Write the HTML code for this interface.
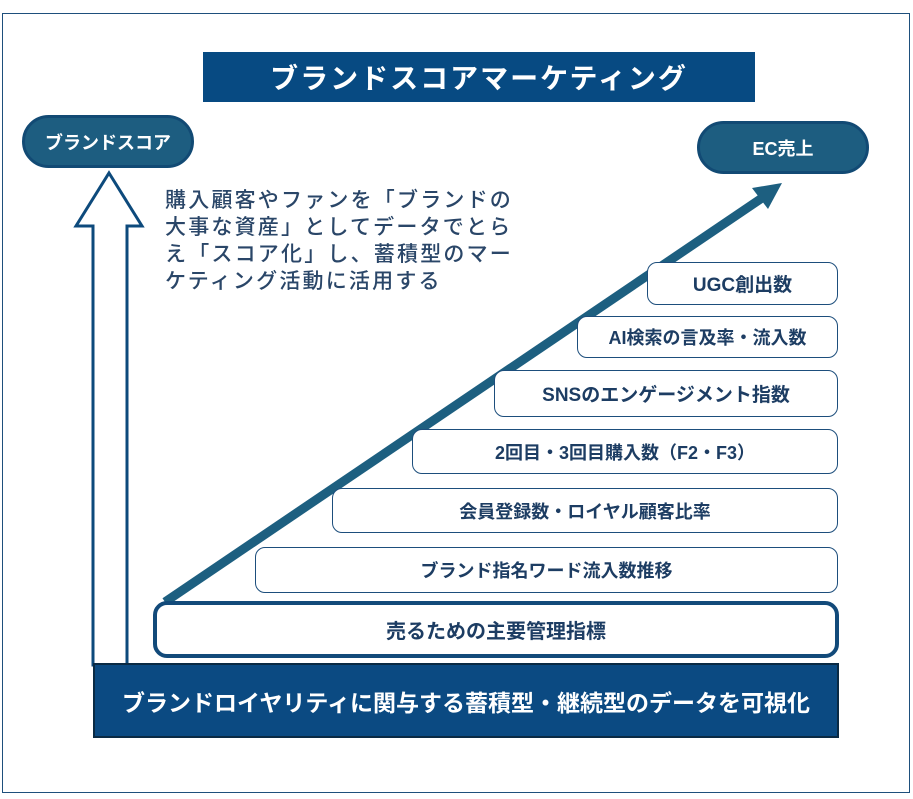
<!DOCTYPE html>
<html><head><meta charset="utf-8"><style>
body{margin:0;width:913px;height:799px;background:#fff;position:relative;overflow:hidden;font-family:"Liberation Sans","Noto Sans CJK JP",sans-serif}
.a{position:absolute;box-sizing:border-box;display:flex;align-items:center;justify-content:center}
.b{border:1.5px solid #1d4e7c;border-radius:10px;background:#fff;color:#1d3d63;font-weight:bold;font-size:18px;right:75px}
</style></head><body>
<div class="a" style="left:2px;top:13px;width:908px;height:780px;border:1.5px solid #1e4f7c"></div>
<div class="a" style="left:203px;top:52px;width:552px;height:50px;background:#074a82;color:#fff;font-size:28px;font-weight:bold;letter-spacing:2px">ブランドスコアマーケティング</div>
<div class="a" style="left:22px;top:115px;width:172px;height:53px;background:#1d5d80;border:3px solid #124a74;border-radius:27px;color:#fff;font-weight:bold;font-size:18px">ブランドスコア</div>
<div class="a" style="left:697px;top:121px;width:172px;height:53px;background:#1d5d80;border:3px solid #124a74;border-radius:27px;color:#fff;font-weight:bold;font-size:18px">EC売上</div>
<svg class="a" style="left:0;top:0" width="913" height="799">
<polygon points="109,173 142,226 127,226 127,665 93,665 93,226 76,226" fill="#fff" stroke="#0d4a7c" stroke-width="3"/>
<line x1="165" y1="602" x2="762" y2="198" stroke="#1d5f80" stroke-width="9"/>
<polygon points="782,183 752,188 768,209" fill="#1d5f80"/>
</svg>
<div style="position:absolute;left:165px;top:187px;font-size:21px;line-height:27px;color:#2a4668;letter-spacing:2.2px;white-space:nowrap;font-weight:500">購入顧客やファンを「ブランドの<br>大事な資産」としてデータでとら<br>え「スコア化」し、蓄積型のマー<br>ケティング活動に活用する</div>
<div class="a b" style="left:647px;top:262px;height:43px;font-size:19px">UGC創出数</div>
<div class="a b" style="left:577px;top:316px;height:42px">AI検索の言及率・流入数</div>
<div class="a b" style="left:494px;top:370px;height:47px;font-size:19px">SNSのエンゲージメント指数</div>
<div class="a b" style="left:412px;top:429px;height:45px">2回目・3回目購入数（F2・F3）</div>
<div class="a b" style="left:332px;top:488px;height:45px">会員登録数・ロイヤル顧客比率</div>
<div class="a b" style="left:255px;top:547px;height:46px">ブランド指名ワード流入数推移</div>
<div class="a" style="left:153px;top:601px;width:686px;height:57px;border:4px solid #124a7a;border-radius:14px;background:#fff;color:#1d3d63;font-weight:bold;font-size:20px">売るための主要管理指標</div>
<div class="a" style="left:93px;top:663px;width:746px;height:75px;background:#0b4a82;border:2px solid #0a2a44;color:#fff;font-weight:bold;font-size:23px">ブランドロイヤリティに関与する蓄積型・継続型のデータを可視化</div>
</body></html>
